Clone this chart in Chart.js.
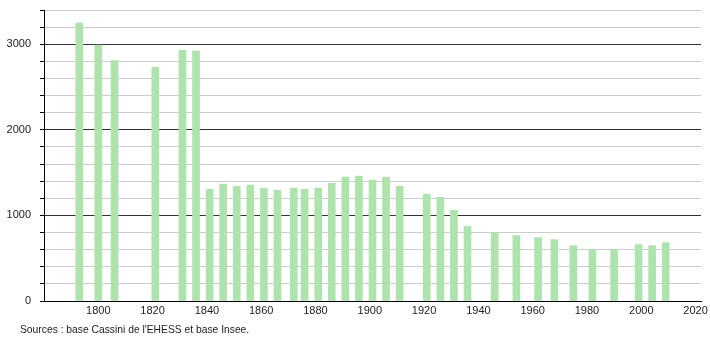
<!DOCTYPE html>
<html>
<head>
<meta charset="utf-8">
<script src="https://cdn.jsdelivr.net/npm/chart.js@4"></script>
<style>
  html, body { margin: 0; padding: 0; background: #fff; }
  #wrap { position: relative; width: 710px; height: 340px; }
  #source {
    position: absolute; left: 20px; top: 324px;
    font: 10.3px "Liberation Sans", Arial, sans-serif; color: #222;
  }
</style>
</head>
<body>
<div id="wrap">
  <canvas id="popChart" width="710" height="340"></canvas>
  <div id="source">Sources : base Cassini de l'EHESS et base Insee.</div>
</div>
<script>
// census years and population
const years = [1793, 1800, 1806, 1821, 1831, 1836, 1841, 1846, 1851, 1856, 1861, 1866,
  1872, 1876, 1881, 1886, 1891, 1896, 1901, 1906, 1911, 1921, 1926, 1931, 1936,
  1946, 1954, 1962, 1968, 1975, 1982, 1990, 1999, 2004, 2009];
const population = [3250, 2990, 2810, 2730, 2930, 2920, 1306, 1365, 1341, 1353, 1318, 1294,
  1318, 1306, 1318, 1376, 1447, 1459, 1412, 1447, 1341, 1247, 1212, 1059, 871,
  800, 765, 741, 718, 647, 596, 596, 659, 647, 682];
const xTicks = [1800, 1820, 1840, 1860, 1880, 1900, 1920, 1940, 1960, 1980, 2000, 2020];
const yLabels = [0, 1000, 2000, 3000];

const font = { family: '"Liberation Sans", Arial, sans-serif', size: 11 };

new Chart(document.getElementById('popChart').getContext('2d'), {
  type: 'bar',
  data: {
    datasets: [{
      data: years.map((y, i) => ({ x: y, y: population[i] })),
      backgroundColor: 'rgb(174,227,174)',
      barThickness: 7
    }]
  },
  options: {
    responsive: false,
    animation: false,
    layout: { padding: { left: 0, right: 9, top: 10, bottom: 19 } },
    plugins: { legend: { display: false }, tooltip: { enabled: false } },
    scales: {
      x: {
        type: 'linear',
        offset: false,
        min: 1780,
        max: 2022,
        afterBuildTicks: s => { s.ticks = xTicks.map(v => ({ value: v })); },
        afterFit: s => { s.height = 20; s.paddingLeft = 0; s.paddingRight = 0; },
        grid: { display: false, drawTicks: false },
        border: { display: true, color: '#000', width: 1 },
        ticks: { font, color: '#222', padding: 3, maxRotation: 0, callback: v => String(v) }
      },
      y: {
        min: 0,
        max: 3400,
        afterFit: s => { s.width = 44; s.paddingTop = 0; s.paddingBottom = 0; },
        grid: {
          color: c => (c.tick.value % 1000 === 0 ? '#333' : '#ccc'),
          tickColor: '#000',
          tickLength: 4
        },
        border: { display: true, color: '#000', width: 1 },
        ticks: {
          stepSize: 200,
          font, color: '#222', padding: 9,
          callback: v => (yLabels.includes(v) ? String(v) : '')
        }
      }
    }
  }
});
</script>
</body>
</html>
